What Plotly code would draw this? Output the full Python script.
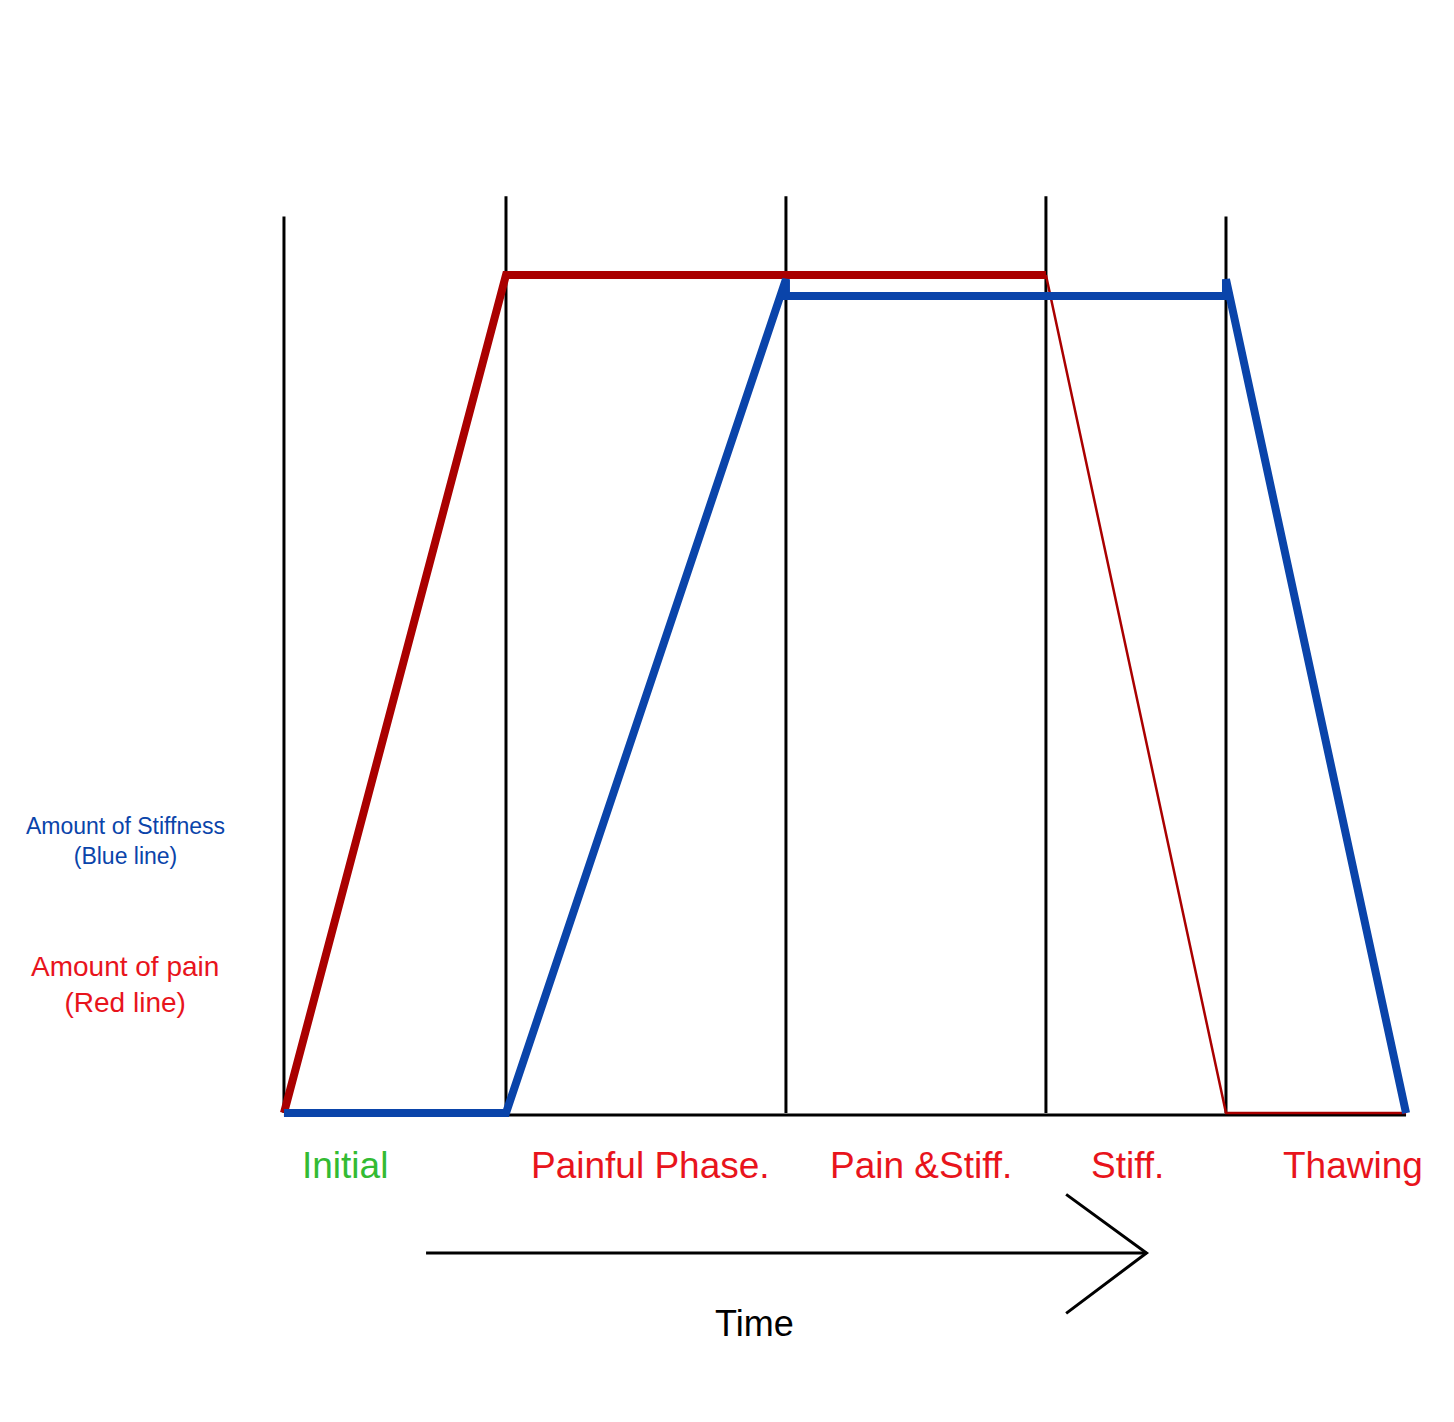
import plotly.graph_objs as go

# time in phase units, level 0-100
phase_t = [0, 1, 2.261, 3.432, 4.243]
phase_top = [107.0, 109.4, 109.4, 109.4, 107.0]
end_t = 5.054

pain_t = [0, 1, 3.432, 4.243, 5.054]
pain_y = [0, 100, 100, 0, 0]

stiff_t = [0, 1, 2.261, 2.261, 4.243, 4.243, 5.054]
stiff_y = [0, 0, 99.5, 97.5, 97.5, 99.5, 0]

phase_names = ["Initial", "Painful Phase.", "Pain &Stiff.", "Stiff.", "Thawing"]
phase_label_t = [0.275, 1.65, 2.87, 3.80, 4.815]
phase_colors = ["#33bb33", "#e8141c", "#e8141c", "#e8141c", "#e8141c"]

RED = "#aa0000"
BLUE = "#0a44aa"

fig = go.Figure()
for t, top in zip(phase_t, phase_top):
    fig.add_trace(go.Scatter(x=[t, t], y=[0, top], mode="lines",
                             line=dict(color="black", width=3), showlegend=False))
fig.add_trace(go.Scatter(x=[0, end_t], y=[-0.24, -0.24], mode="lines",
                         line=dict(color="black", width=3), showlegend=False))

# red line: thick until stiff phase, thin after
fig.add_trace(go.Scatter(x=pain_t[:3], y=pain_y[:3], mode="lines",
                         line=dict(color=RED, width=8), showlegend=False))
fig.add_trace(go.Scatter(x=pain_t[2:], y=pain_y[2:], mode="lines",
                         line=dict(color=RED, width=2.5), showlegend=False))
fig.add_trace(go.Scatter(x=stiff_t, y=stiff_y, mode="lines",
                         line=dict(color=BLUE, width=8), showlegend=False))

# time arrow
fig.add_trace(go.Scatter(x=[0.64, 3.885], y=[-16.7, -16.7], mode="lines",
                         line=dict(color="black", width=3), showlegend=False))
fig.add_trace(go.Scatter(x=[3.523, 3.885, 3.523], y=[-9.7, -16.7, -23.9], mode="lines",
                         line=dict(color="black", width=3), showlegend=False))

for name, t, c in zip(phase_names, phase_label_t, phase_colors):
    fig.add_annotation(x=t, y=-6.3, text=name, showarrow=False,
                       font=dict(size=37, color=c))
fig.add_annotation(x=-0.716, y=32.5, text="Amount of Stiffness<br>(Blue line)",
                   showarrow=False, font=dict(size=23, color=BLUE))
fig.add_annotation(x=-0.716, y=15.4, text="Amount of pain<br>(Red line)",
                   showarrow=False, font=dict(size=28, color="#e8141c"))
fig.add_annotation(x=2.12, y=-25.1, text="Time", showarrow=False,
                   font=dict(size=36, color="black"))

fig.update_layout(
    width=1454, height=1422,
    margin=dict(l=0, r=0, t=0, b=0),
    plot_bgcolor="white", paper_bgcolor="white",
    font=dict(family="Liberation Sans, Arial"),
    xaxis=dict(range=[-1.243, 5.306], visible=False, fixedrange=True),
    yaxis=dict(range=[-37.82, 131.87], visible=False, fixedrange=True),
)
fig.write_html("out.html")
